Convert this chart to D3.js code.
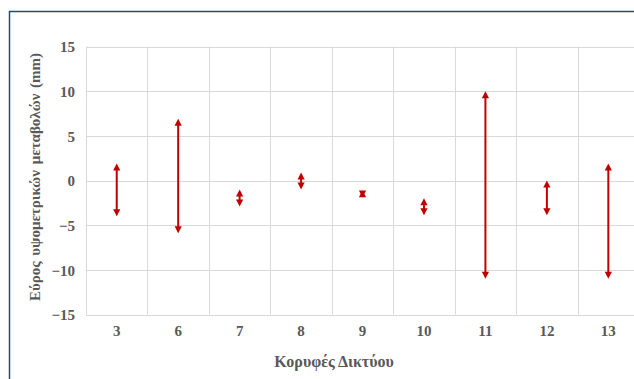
<!DOCTYPE html>
<html>
<head>
<meta charset="utf-8">
<script src="https://cdn.jsdelivr.net/npm/d3@7"></script>
<style>
  html, body { margin: 0; padding: 0; background: #fff; }
  svg { display: block; }
  text { font-family: "Liberation Serif", "Times New Roman", serif; font-weight: bold; fill: #595959; }
</style>
</head>
<body>
<script>
const categories = ["3", "6", "7", "8", "9", "10", "11", "12", "13"];
const minValues = [-4.0, -5.9, -2.9, -1.0, -1.9, -3.9, -11.0, -3.9, -11.0];
const maxValues = [1.9, 6.9, -1.0, 0.9, -1.1, -2.0, 10.0, 0.0, 1.9];
const yTicks = [-15, -10, -5, 0, 5, 10, 15];
const xTitle = "Κορυφές Δικτύου";
const yTitle = "Εύρος υψομετρικών μεταβολών (mm)";

const W = 634, H = 379;
const svg = d3.select("body").append("svg").attr("width", W).attr("height", H);

// chart border (extends beyond right/bottom)
svg.append("rect").attr("x", 9.5).attr("y", 11.5).attr("width", 700).attr("height", 500)
  .attr("fill", "none").attr("stroke", "#1F4E79").attr("stroke-width", 1.5);

const plotL = 86, band = 61.45;
const x = d3.scaleBand().domain(categories).range([plotL, plotL + band * categories.length]).padding(0);
const y = d3.scaleLinear().domain([-15, 15]).range([314.5, 46.5]);

const grid = svg.append("g");
grid.selectAll("line.h").data(yTicks).join("line")
  .attr("x1", plotL).attr("x2", x.range()[1])
  .attr("y1", d => Math.round(y(d)) + 0.5).attr("y2", d => Math.round(y(d)) + 0.5)
  .attr("stroke", "#D9D9D9").attr("stroke-width", 1);
const bounds = categories.map(c => x(c)).concat([x.range()[1]]);
grid.selectAll("line.v").data(bounds).join("line")
  .attr("x1", d => Math.round(d) + 0.5).attr("x2", d => Math.round(d) + 0.5)
  .attr("y1", y(15)).attr("y2", y(-15))
  .attr("stroke", "#D9D9D9").attr("stroke-width", 1);

// y axis labels
const yAxis = d3.axisLeft(y).tickValues(yTicks).tickSize(0).tickPadding(0).tickFormat(d3.format("d"));
const gy = svg.append("g").attr("transform", `translate(75,0)`).call(yAxis);
gy.attr("font-family", null).attr("font-size", null);
gy.select(".domain").remove();
gy.selectAll("text").attr("font-size", 15).attr("fill", null).attr("dy", "0.35em");

// x axis labels
const xAxis = d3.axisBottom(x).tickSize(0).tickPadding(0);
const gx = svg.append("g").attr("transform", `translate(0,${y(-15) + 16})`).call(xAxis);
gx.attr("font-family", null).attr("font-size", null);
gx.select(".domain").remove();
gx.selectAll("text").attr("font-size", 15).attr("fill", null).attr("dy", "0.35em");

// titles
svg.append("text").attr("x", 334).attr("y", 361).attr("dy", "0.35em").attr("text-anchor", "middle")
  .attr("font-size", 16).text(xTitle);
svg.append("text").attr("transform", "translate(35,177) rotate(-90)").attr("dy", "0.35em")
  .attr("text-anchor", "middle").attr("font-size", 15).attr("word-spacing", 2).text(yTitle);

// arrows
const red = "#C00000";
const headL = 7, headW = 3.6;
const data = categories.map((c, i) => ({ c, lo: minValues[i], hi: maxValues[i] }));
const g = svg.append("g");
data.forEach(d => {
  const cx = x(d.c) + x.bandwidth() / 2;
  const yt = y(d.hi), yb = y(d.lo);
  if (yb - yt > 2 * headL) {
    g.append("line").attr("x1", cx).attr("x2", cx).attr("y1", yt + headL - 1).attr("y2", yb - headL + 1)
      .attr("stroke", red).attr("stroke-width", 2);
  }
  g.append("path").attr("d", `M${cx},${yt} L${cx - headW},${yt + headL} L${cx + headW},${yt + headL} Z`).attr("fill", red);
  g.append("path").attr("d", `M${cx},${yb} L${cx - headW},${yb - headL} L${cx + headW},${yb - headL} Z`).attr("fill", red);
});
</script>
</body>
</html>
